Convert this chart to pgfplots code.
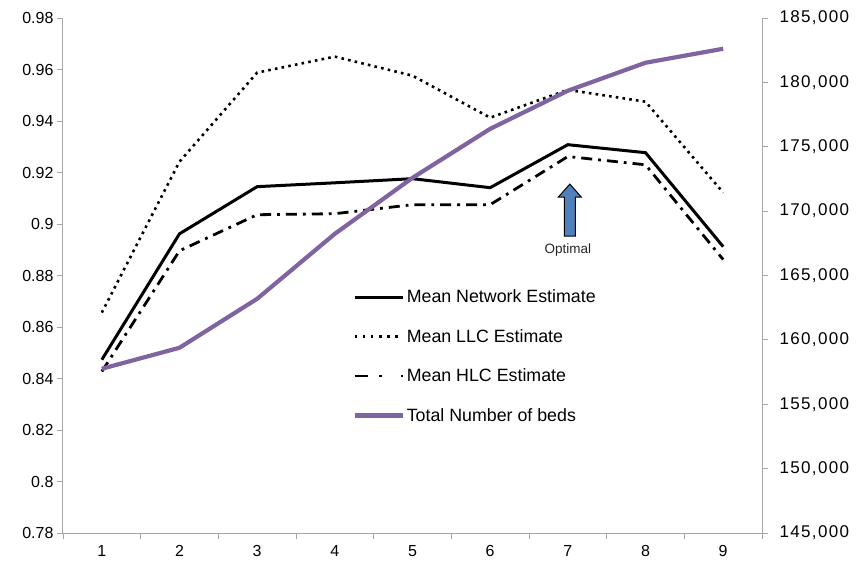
\documentclass[border=0pt]{standalone}
\usepackage{pgfplots}
\pgfplotsset{compat=1.18}
\usepackage{fontspec}
\setmainfont{Liberation Sans}

\definecolor{axisgray}{HTML}{A6A6A6}
\definecolor{bedpurple}{HTML}{8064A2}
\definecolor{arrowblue}{HTML}{4F81BD}

\pgfplotsset{
  commonaxis/.style={
    scale only axis,
    width=699pt, height=515pt,
    xmin=0.5, xmax=9.5,
    axis line style={axisgray, line width=1pt},
    every tick/.style={axisgray, line width=0.8pt},
    tick align=outside,
    major tick length=6pt,
    minor tick length=6pt,
    tick label style={font=\fontsize{16}{19}\selectfont, text=black},
    /pgf/number format/assume math mode=true,
  },
  netstyle/.style={black, line width=3pt, line join=miter},
  llcstyle/.style={black, line width=2.6pt, dash pattern=on 2.6pt off 4.2pt},
  hlcstyle/.style={black, line width=2.8pt, dash pattern=on 11pt off 6pt on 2.8pt off 6pt},
}

\begin{document}
\begin{tikzpicture}
% fixed canvas around the plot area
\path (-63pt,-32pt) rectangle (798pt,533pt);

% left axis: mean estimates
\begin{axis}[
  commonaxis,
  axis x line*=bottom,
  axis y line*=left,
  ymin=0.78, ymax=0.98,
  ytick={0.78,0.80,...,0.98},
  yticklabel style={/pgf/number format/fixed, /pgf/number format/precision=2},
  xtick={1,...,9},
  major x tick style={draw=none},
  minor xtick={0.5,1.5,...,9.5},
  xticklabel style={yshift=-3pt},
]
\addplot[netstyle] coordinates {
  (1,0.8473) (2,0.8962) (3,0.9145) (4,0.9160) (5,0.9176)
  (6,0.9141) (7,0.9308) (8,0.9277) (9,0.8912)};
\addplot[llcstyle] coordinates {
  (1,0.8656) (2,0.9242) (3,0.9588) (4,0.9650) (5,0.9576)
  (6,0.9413) (7,0.9521) (8,0.9475) (9,0.9122)};
\addplot[hlcstyle] coordinates {
  (1,0.8427) (2,0.8896) (3,0.9036) (4,0.9040) (5,0.9075)
  (6,0.9075) (7,0.9262) (8,0.9230) (9,0.8862)};

% annotation arrow for the optimal configuration
\draw[black, line width=1pt, fill=arrowblue, shift={(axis cs:7,0.8953)}, xshift=2pt]
  (-5.5pt,0pt) -- (-5.5pt,39pt) -- (-11.5pt,39pt) -- (0pt,52pt)
  -- (11.5pt,39pt) -- (5.5pt,39pt) -- (5.5pt,0pt) -- cycle;
\node[font=\fontsize{13.5}{15}\selectfont, text=black!85] at (axis cs:7,0.8898) {Optimal};
\end{axis}

% right axis: total number of beds
\begin{axis}[
  commonaxis,
  axis x line=none,
  axis y line*=right,
  ymin=145000, ymax=185000,
  ytick={145000,150000,...,185000},
  scaled y ticks=false,
  yticklabel style={/pgf/number format/fixed, /pgf/number format/1000 sep={,},
    font=\fontsize{17}{19}\selectfont\addfontfeatures{LetterSpace=8}, xshift=8pt},
  legend style={
    draw=none, fill=none,
    at={(0.414,0.476)}, anchor=north west,
    font=\fontsize{17.8}{20}\selectfont,
    row sep=21pt,
    cells={anchor=west},
    inner sep=0pt,
  },
  legend image code/.code={\draw[#1] (0pt,0pt) -- (48pt,0pt);},
]
\addlegendimage{netstyle}
\addlegendentry{Mean Network Estimate}
\addlegendimage{black, line width=2.6pt, dash pattern=on 2.6pt off 5.5pt}
\addlegendentry{Mean LLC Estimate}
\addlegendimage{black, line width=2.8pt, dash pattern=on 13pt off 11pt on 3pt off 19pt on 3pt off 10pt}
\addlegendentry{Mean HLC Estimate}
\addplot[bedpurple, line width=4.2pt, line join=round] coordinates {
  (1,157756) (2,159387) (3,163191) (4,168238) (5,172586)
  (6,176390) (7,179350) (8,181524) (9,182612)};
\addlegendentry{Total Number of beds}
\end{axis}
\end{tikzpicture}
\end{document}
